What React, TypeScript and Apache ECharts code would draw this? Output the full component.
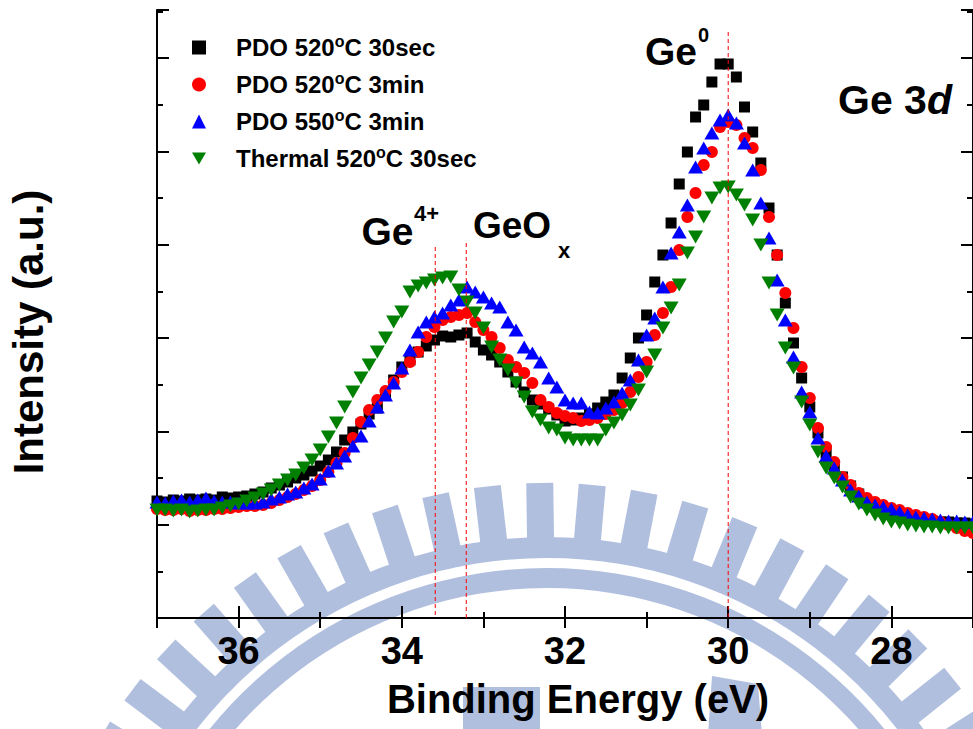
import { useEffect, useRef } from 'react';
import * as echarts from 'echarts';

const FONT = '"Liberation Sans", Arial, Helvetica, sans-serif';

// Ge 3d core-level spectra, sampled from 37.0 eV down to 27.0 eV every 0.1 eV
const BE_START = 37.0;
const BE_STEP = 0.1;

const pdo520_30sec = [
  1170, 1160, 1180, 1170, 1190, 1180, 1190, 1180, 1210, 1200,
  1210, 1220, 1240, 1260, 1300, 1330, 1360, 1400, 1430, 1470,
  1520, 1580, 1660, 1780, 1860, 1940, 2040, 2100, 2230, 2380,
  2510, 2580, 2660, 2720, 2780, 2820, 2810, 2830, 2850, 2760,
  2680, 2630, 2560, 2460, 2360, 2260, 2180, 2140, 2090, 2030,
  1970, 1980, 2000, 2040, 2100, 2160, 2230, 2400, 2600, 2800,
  3030, 3360, 3630, 3950, 4340, 4660, 5010, 5130, 5360, 5540,
  5540, 5410, 5110, 4860, 4550, 4100, 3630, 3150, 2750, 2400,
  2110, 1850, 1650, 1520, 1410, 1320, 1240, 1160, 1110, 1070,
  1040, 1020, 1000, 990, 980, 970, 960, 960, 950, 950, 940,
];

const pdo520_3min = [
  1090, 1080, 1080, 1090, 1070, 1080, 1080, 1090, 1090, 1100,
  1110, 1120, 1120, 1130, 1150, 1180, 1210, 1240, 1280, 1320,
  1380, 1460, 1550, 1650, 1800, 1960, 2080, 2180, 2270, 2360,
  2460, 2560, 2660, 2810, 2910, 2980, 3010, 3030, 3050, 2960,
  2880, 2810, 2700, 2580, 2510, 2450, 2350, 2180, 2110, 2050,
  2020, 2000, 1970, 1980, 2000, 2040, 2080, 2150, 2260, 2410,
  2560, 2830, 3050, 3310, 3680, 4010, 4250, 4530, 4660, 4910,
  4960, 4930, 4800, 4700, 4480, 4010, 3630, 3250, 2900, 2510,
  2200, 1900, 1710, 1560, 1410, 1330, 1250, 1200, 1160, 1130,
  1100, 1080, 1050, 1030, 1010, 990, 960, 930, 900, 870, 850,
];

const pdo550_3min = [
  1160, 1150, 1170, 1180, 1160, 1180, 1200, 1170, 1160, 1160,
  1150, 1150, 1150, 1160, 1190, 1210, 1240, 1260, 1300, 1340,
  1390, 1470, 1550, 1620, 1720, 1820, 1970, 2110, 2230, 2350,
  2500, 2680, 2860, 2960, 3010, 3050, 3130, 3180, 3310, 3260,
  3210, 3150, 3110, 2960, 2880, 2710, 2650, 2560, 2400, 2310,
  2180, 2150, 2150, 2060, 2050, 2100, 2160, 2250, 2380, 2580,
  2830, 3000, 3310, 3650, 3860, 4130, 4510, 4700, 4850, 4980,
  5030, 4950, 4750, 4480, 4150, 3800, 3380, 2980, 2610, 2260,
  2060, 1800, 1620, 1500, 1380, 1280, 1220, 1160, 1130, 1110,
  1090, 1060, 1030, 1010, 1000, 990, 980, 970, 970, 960, 960,
];

const thermal520_30sec = [
  1080, 1080, 1070, 1080, 1060, 1070, 1080, 1080, 1100, 1120,
  1140, 1170, 1200, 1240, 1280, 1330, 1380, 1430, 1500, 1580,
  1680, 1810, 1950, 2110, 2260, 2400, 2530, 2660, 2800, 2960,
  3060, 3260, 3320, 3350, 3380, 3400, 3410, 3280, 3160, 3050,
  2900, 2710, 2580, 2480, 2350, 2210, 2060, 1980, 1900, 1880,
  1800, 1780, 1780, 1780, 1780, 1880, 1950, 2030, 2130, 2280,
  2460, 2630, 2900, 3100, 3330, 3650, 3810, 4010, 4200, 4300,
  4310, 4230, 4130, 3980, 3730, 3350, 3030, 2700, 2500, 2160,
  1930, 1660, 1500, 1400, 1310, 1210, 1140, 1080, 1030, 990,
  960, 950, 930, 920, 910, 910, 900, 900, 900, 900, 900,
];

const seriesNames = ['PDO 520°C 30sec', 'PDO 520°C 3min', 'PDO 550°C 3min', 'Thermal 520°C 30sec'];

const bindingEnergy = pdo520_30sec.map((_, i) => Number((BE_START - BE_STEP * i).toFixed(1)));

const xMajorTicks = [28, 30, 32, 34, 36];
const xMinorTicks = [29, 31, 33, 35];

// reference positions of the chemical states (eV) and where each dashed guide starts
const peakMarkers = [
  { state: 'Ge4+', energy: 33.59, top: 3710 },
  { state: 'GeOx', energy: 33.21, top: 3750 },
  { state: 'Ge0', energy: 30.0, top: 5860 },
];

// faint university emblem printed behind the plot
const LOGO = {
  cx: 547, cy: 1002,
  toothOuter: 519, toothInner: 463,
  band1Outer: 465, band1Inner: 444,
  band2Outer: 434, band2Inner: 414,
  toothWidth: 27, toothStepDeg: 5.8, toothOffsetDeg: -0.8,
};
const LOGO_FILL = '#b1bfdf';

function emblem() {
  const els: any[] = [];
  const half = 1.3;
  const start = -Math.PI / 2 - half;
  const end = -Math.PI / 2 + half;
  els.push({
    type: 'sector', z: -10, silent: true,
    shape: { cx: LOGO.cx, cy: LOGO.cy, r0: LOGO.band1Inner, r: LOGO.band1Outer, startAngle: start, endAngle: end },
    style: { fill: LOGO_FILL },
  });
  els.push({
    type: 'sector', z: -10, silent: true,
    shape: { cx: LOGO.cx, cy: LOGO.cy, r0: LOGO.band2Inner, r: LOGO.band2Outer, startAngle: start, endAngle: end },
    style: { fill: LOGO_FILL },
  });
  for (let k = -12; k <= 12; k++) {
    const a = ((LOGO.toothOffsetDeg + LOGO.toothStepDeg * k) * Math.PI) / 180;
    const ux = Math.sin(a), uy = -Math.cos(a);
    const px = Math.cos(a), py = Math.sin(a);
    const hw = LOGO.toothWidth / 2;
    const pt = (r: number, s: number) => [LOGO.cx + ux * r + px * hw * s, LOGO.cy + uy * r + py * hw * s];
    els.push({
      type: 'polygon', z: -10, silent: true,
      shape: { points: [pt(LOGO.toothInner, -1), pt(LOGO.toothOuter, -1), pt(LOGO.toothOuter, 1), pt(LOGO.toothInner, 1)] },
      style: { fill: LOGO_FILL },
    });
  }
  els.push({ type: 'rect', z: -10, silent: true, shape: { x: 463, y: 687, width: 77, height: 50 }, style: { fill: LOGO_FILL } });
  els.push({
    type: 'polygon', z: -10, silent: true,
    shape: { points: [[712, 676], [758, 684], [762, 735], [708, 735]] },
    style: { fill: LOGO_FILL },
  });
  return els;
}

function label(text: string, x: number, y: number, size: number, extra: any = {}) {
  return {
    type: 'text', x, y, z: 20, silent: true,
    style: {
      text, fill: '#000', fontFamily: FONT, fontSize: size, fontWeight: 'bold',
      align: 'left', verticalAlign: 'middle', textAlign: 'left', textVerticalAlign: 'middle',
      ...extra,
    },
  };
}

const axisBlack = { color: '#000', width: 2 };

export default function App() {
  const ref = useRef<HTMLDivElement>(null);

  useEffect(() => {
    if (!ref.current) return;
    const chart = echarts.init(ref.current, undefined, { renderer: 'svg' });

    const seriesData = [pdo520_30sec, pdo520_3min, pdo550_3min, thermal520_30sec].map((vals) =>
      vals.map((v, i) => [bindingEnergy[i], v])
    );

    const yAxisBase = (position: string, major: boolean) => ({
      type: 'value', position, min: 0, max: 6080,
      interval: major ? 933.3 : 466.65,
      axisLine: { show: major, lineStyle: axisBlack },
      axisTick: { inside: true, length: major ? 12 : 6, lineStyle: axisBlack },
      axisLabel: { show: false },
      splitLine: { show: false },
    });

    const legendIcons = ['rect', 'circle', 'triangle', 'path://M0,0L14,0L7,12Z'];

    // dashed vertical guides at the chemical-state energies
    const guideSeries = peakMarkers.map((p) => ({
      name: p.state,
      type: 'line',
      data: [[p.energy, p.top], [p.energy, 0]],
      symbol: 'none',
      silent: true,
      z: 6,
      itemStyle: { color: '#ff0000' },
      lineStyle: { color: '#ff0000', type: [4, 3], width: 1 },
      emphasis: { disabled: true },
    }));

    const markerSeries = (i: number, symbol: string, size: any, color: string, extra: any = {}) => ({
      name: seriesNames[i],
      type: 'scatter',
      symbol,
      symbolSize: size,
      itemStyle: { color, opacity: 1 },
      data: seriesData[i],
      z: 2 + i,
      silent: true,
      emphasis: { disabled: true },
      ...extra,
    });

    const option: any = {
      animation: false,
      grid: { left: 157, right: -7, top: 10, bottom: 111 },
      xAxis: [
        {
          type: 'value', position: 'bottom', min: 27, max: 37, inverse: true,
          axisLine: { lineStyle: axisBlack },
          axisTick: { inside: true, length: 12, customValues: xMajorTicks, lineStyle: axisBlack },
          axisLabel: {
            customValues: xMajorTicks, margin: 14, color: '#000',
            fontSize: 38, fontWeight: 'bold', fontFamily: FONT,
          },
          splitLine: { show: false },
        },
        {
          type: 'value', position: 'bottom', min: 27, max: 37, inverse: true,
          axisLine: { show: false },
          axisTick: { inside: true, length: 6, customValues: xMinorTicks, lineStyle: axisBlack },
          axisLabel: { show: false },
          splitLine: { show: false },
        },
        {
          type: 'value', position: 'top', min: 27, max: 37, interval: 1, inverse: true,
          axisLine: { lineStyle: axisBlack },
          axisTick: { inside: true, length: 10, lineStyle: axisBlack },
          axisLabel: { show: false },
          splitLine: { show: false },
        },
      ],
      yAxis: [
        yAxisBase('left', true),
        yAxisBase('left', false),
        yAxisBase('right', true),
        yAxisBase('right', false),
      ],
      legend: {
        data: seriesNames.map((name, i) => ({ name, icon: legendIcons[i] })),
        orient: 'vertical',
        left: 192,
        top: 33.5,
        padding: 0,
        itemWidth: 14,
        itemHeight: 14,
        itemGap: 9,
        selectedMode: false,
        formatter: (name: string) => name.replace('°', '{sup|o}'),
        textStyle: {
          fontFamily: FONT, fontSize: 24, fontWeight: 'bold', color: '#000',
          lineHeight: 28, padding: [0, 0, 0, 25],
          rich: {
            sup: { fontFamily: FONT, fontSize: 16, fontWeight: 'bold', color: '#000', lineHeight: 4, verticalAlign: 'top' },
          },
        },
      },
      series: [
        markerSeries(0, 'rect', 11, '#000000'),
        markerSeries(1, 'circle', 12, '#ff0000'),
        markerSeries(2, 'triangle', [15, 13], '#0000ff'),
        markerSeries(3, 'triangle', [15, 13], '#008000', { symbolRotate: 180 }),
        ...guideSeries,
      ],
      graphic: {
        elements: [
          ...emblem(),
          label('Ge', 361.5, 231.5, 39),
          label('4+', 414, 213.4, 22),
          label('GeO', 473, 225.7, 37),
          label('x', 558, 250.4, 22),
          label('Ge', 645, 51.5, 39),
          label('0', 698, 35.1, 20),
          label('Ge 3{i|d}', 838, 99.5, 41, {
            rich: { i: { fontFamily: FONT, fontSize: 41, fontWeight: 'bold', fontStyle: 'italic', fill: '#000' } },
          }),
          label('Binding Energy (eV)', 578, 699, 40, { align: 'center', textAlign: 'center' }),
          {
            type: 'text', x: 28.4, y: 332, rotation: Math.PI / 2, z: 20, silent: true,
            style: {
              text: 'Intensity (a.u.)', fill: '#000', fontFamily: FONT, fontSize: 42, fontWeight: 'bold',
              align: 'center', verticalAlign: 'middle', textAlign: 'center', textVerticalAlign: 'middle',
            },
          },
        ],
      },
    };

    chart.setOption(option);
    return () => chart.dispose();
  }, []);

  return (
    <div
      ref={ref}
      style={{ position: 'absolute', left: 0, top: 0, width: 973, height: 729, background: '#fff' }}
    />
  );
}
